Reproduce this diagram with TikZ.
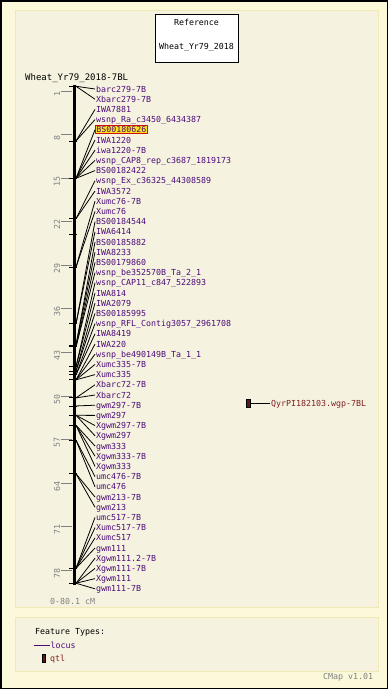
\documentclass[tikz,border=0pt]{standalone}
\usepackage{xcolor}
\usepackage{fontspec}
\setmonofont{DejaVu Sans Mono}
\usepackage{tikz}
\usetikzlibrary{positioning,calc}
\definecolor{cmbg}{HTML}{FBF9DA}
\definecolor{cmpanel}{HTML}{F5F3DF}
\definecolor{cmedge}{HTML}{EFEAB4}
\definecolor{cmlocus}{HTML}{4B0A7A}
\definecolor{cmqtl}{HTML}{7F1F1F}
\definecolor{cmqtlbox}{HTML}{5A1A1A}
\definecolor{cmhiyel}{HTML}{FFE21C}
\definecolor{cmhired}{HTML}{D01010}
\definecolor{cmgrey}{HTML}{808080}
\newcommand{\cmfont}{\ttfamily\fontsize{8.3pt}{9pt}\selectfont}

\begin{document}
\begin{tikzpicture}[
  x=1pt, y=-1pt,
  panel/.style={draw=cmedge, fill=cmpanel, line width=1pt},
  txt/.style={anchor=west, inner xsep=1pt, inner ysep=1pt, text height=6pt, text depth=0pt, font=\cmfont},
  locus/.style={txt, text=cmlocus},
  hilite/.style={fill=cmhiyel, draw=cmhired, line width=0.8pt},
  link/.style={black, line width=0.8pt},
  postick/.style={black, line width=0.9pt},
  scaletick/.style={cmgrey, line width=0.9pt},
  scalelbl/.style={font=\cmfont, text=cmgrey, rotate=90, inner sep=0pt},
  qtlbox/.style={draw=black, fill=cmqtlbox, line width=0.5pt, minimum width=3.5pt, minimum height=7.5pt, inner sep=0pt}
]
  \useasboundingbox (0,0) rectangle (388,689);
  \draw[black, line width=1.5pt, fill=cmbg] (0.75,0.75) rectangle (387.25,688.25);
  \draw[panel] (15,10) rectangle (378,607);
  \draw[panel] (15,617) rectangle (378,671);

  \node[draw=black, fill=white, line width=0.6pt, minimum width=83pt, minimum height=48pt] (refbox) at (196.5,38) {};
  \node[txt, anchor=center] (reftitle) at (196.5,22) {Reference};
  \node[txt, anchor=center] (refname) at (196.5,46) {Wheat\_Yr79\_2018};

  \node[txt, font=\ttfamily\fontsize{9pt}{10pt}\selectfont] (maptitle) at (24,77) {Wheat\_Yr79\_2018-7BL};

  \coordinate (top) at (74,85);
  \coordinate (bot) at (74,585);
  \draw[black, line width=3pt] (top) -- (bot);

  \foreach \c in {1,8,...,78} {
    \draw[scaletick] (61,{85+6.22*\c}) -- (72,{85+6.22*\c});
    \node[scalelbl] (s\c) at (57,{88+6.22*\c}) {\c};
  }
  \node[txt, text=cmgrey] (range) at (49,601) {0-80.1 cM};

  \draw[postick] (69,{85+6.22*24}) -- (77,{85+6.22*24});
  \foreach \name/\cm [count=\i] in {
    barc279-7B/0.2, Xbarc279-7B/0.2, IWA7881/9, wsnp\_Ra\_c3450\_6434387/9,
    BS00180626/15, IWA1220/15, iwa1220-7B/15, wsnp\_CAP8\_rep\_c3687\_1819173/15, BS00182422/15,
    wsnp\_Ex\_c36325\_44308589/21.5, IWA3572/21.5, Xumc76-7B/29.3, Xumc76/29.3,
    BS00184544/38.4, IWA6414/38.4, BS00185882/41.8, IWA8233/41.8,
    BS00179860/42.1, wsnp\_be352570B\_Ta\_2\_1/42.1, wsnp\_CAP11\_c847\_522893/45.3, IWA814/45.3,
    IWA2079/46, BS00185995/46, wsnp\_RFL\_Contig3057\_2961708/46.6, IWA8419/46.6,
    IWA220/47.4, wsnp\_be490149B\_Ta\_1\_1/47.4, Xumc335-7B/47.4, Xumc335/47.4,
    Xbarc72-7B/50.3, Xbarc72/50.3, gwm297-7B/51.6, gwm297/53.1, Xgwm297-7B/53.1, Xgwm297/53.1,
    gwm333/54.7, Xgwm333-7B/54.7, Xgwm333/54.7, umc476-7B/57.1, umc476/57.1,
    gwm213-7B/62.5, gwm213/62.5, umc517-7B/77.7, Xumc517-7B/77.7, Xumc517/77.7, gwm111/77.7,
    Xgwm111.2-7B/80.1, Xgwm111-7B/80.1, Xgwm111/80.1, gwm111-7B/80.1} {
    \coordinate (a\i) at (76,{85+6.22*\cm});
    \draw[postick] (69,{85+6.22*\cm}) -- (77,{85+6.22*\cm});
    \ifnum\i=5 \tikzset{cur/.style={hilite}}\else\tikzset{cur/.style={}}\fi
    \node[locus, cur] (m\i) at (95,{89+10.2*(\i-1)}) {\name};
    \draw[link] (a\i) -- (m\i.west);
  }

  \node[qtlbox] (qtl) at (248,403) {};
  \node[txt, text=cmqtl] (qtllbl) at (270,403) {QyrPI182103.wgp-7BL};
  \draw[link] (qtl.east) -- (qtllbl.west);

  \node[txt] (legtitle) at (34,631) {Feature Types:};
  \coordinate (legline) at (34,645);
  \node[locus] (leglocus) at (49.5,645) {locus};
  \draw[cmlocus, line width=0.9pt] (legline) -- (leglocus.west);
  \node[qtlbox] (legbox) at (43.5,658) {};
  \node[txt, text=cmqtl] (legqtl) at (49,658) {qtl};

  \node[txt, text=cmgrey] (version) at (322,676) {CMap v1.01};
\end{tikzpicture}
\end{document}
